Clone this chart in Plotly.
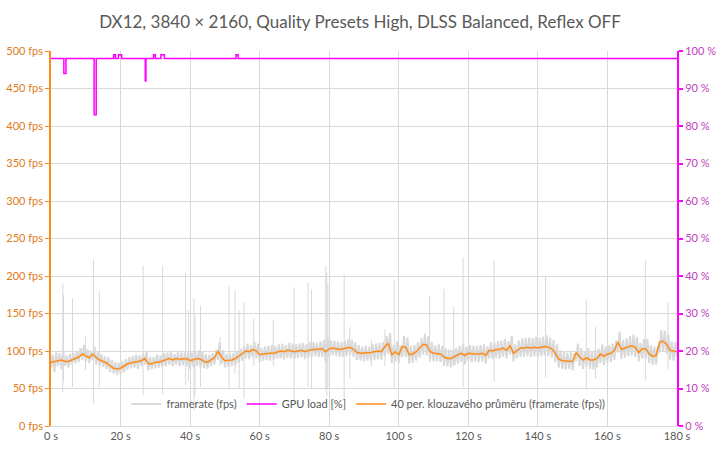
import plotly.graph_objects as go

fps_step = 0.5
framerate = [
    78, 95, 72, 98, 80, 97, 76, 100, 80, 94, 78, 96, 82, 97, 84, 100, 85, 104, 88, 108,
    86, 102, 84, 100, 88, 106, 82, 99, 80, 96, 79, 93, 76, 92, 72, 88, 70, 85, 68, 84,
    70, 86, 72, 89, 75, 92, 77, 93, 78, 95, 76, 94, 80, 97, 82, 99, 74, 92, 76, 92,
    77, 95, 78, 94, 79, 97, 80, 98, 82, 99, 80, 96, 82, 99, 80, 98, 81, 98, 80, 100,
    76, 98, 78, 99, 80, 101, 78, 100, 77, 96, 76, 95, 80, 97, 82, 102, 88, 112, 83, 101,
    78, 96, 79, 96, 80, 97, 81, 100, 84, 103, 87, 106, 90, 110, 89, 108, 92, 112, 90, 110,
    85, 104, 87, 106, 88, 107, 87, 108, 88, 106, 90, 109, 90, 110, 89, 108, 91, 111, 90, 110,
    89, 109, 91, 110, 92, 111, 89, 109, 91, 112, 92, 112, 93, 111, 92, 113, 92, 115, 85, 118,
    92, 114, 94, 114, 93, 113, 92, 112, 92, 114, 93, 116, 95, 115, 92, 112, 88, 108, 87, 106,
    86, 107, 87, 106, 87, 109, 88, 110, 89, 111, 88, 112, 93, 120, 96, 124, 84, 108, 86, 113,
    84, 108, 92, 120, 92, 118, 83, 107, 84, 108, 87, 112, 91, 117, 95, 123, 94, 120, 87, 112,
    86, 108, 86, 109, 85, 107, 80, 104, 79, 102, 78, 102, 81, 104, 83, 107, 85, 110, 82, 106,
    86, 108, 85, 107, 86, 107, 85, 108, 86, 109, 83, 106, 90, 112, 89, 111, 91, 113, 90, 114,
    92, 116, 90, 113, 95, 120, 86, 109, 90, 114, 92, 117, 92, 118, 93, 118, 92, 117, 93, 119,
    92, 118, 93, 119, 94, 121, 93, 118, 91, 115, 85, 109, 78, 101, 76, 99, 75, 98, 76, 99,
    74, 97, 86, 110, 80, 104, 76, 100, 79, 104, 76, 100, 75, 101, 78, 103, 84, 109, 81, 106,
    84, 108, 85, 110, 88, 114, 98, 126, 89, 115, 91, 117, 93, 120, 94, 122, 92, 119, 86, 111,
    90, 116, 90, 116, 84, 108, 81, 106, 82, 107, 98, 128, 99, 127, 96, 122, 88, 113, 87, 112,
    92,
]
fps_time = [i * fps_step for i in range(len(framerate))]

# single-frame spikes: time [s], peak fps, low fps
spike_time = [3.4, 3.6, 6.2, 9.9, 12.2, 13.9, 26.5, 32.1, 38.7, 39.5, 41.1, 41.4, 43.0,
              48.6, 51.2, 52.9, 54.1, 55.5, 58.3, 63.9, 69.9, 73.9, 74.9, 79.0, 79.3,
              79.6, 84.3, 85.9, 92.1, 96.0, 98.7, 108.9, 113.0, 115.8, 118.5, 127.4,
              142.2, 153.9, 156.6, 170.9, 177.4]
spike_high = [190, 175, 170, 119, 222, 180, 214, 214, 204, 154, 170, 150, 161,
              119, 186, 181, 154, 165, 143, 141, 185, 191, 182, 214, 205,
              190, 203, 132, 115, 129, 195, 173, 183, 159, 225, 221,
              199, 168, 132, 221, 165]
spike_low = [45, 60, 52, 75, 30, 52, 41, 43, 54, 60, 21, 40, 52,
             80, 48, 70, 50, 36, 80, 80, 30, 52, 50, 48, 40,
             50, 34, 63, 80, 80, 50, 85, 80, 80, 52, 59,
             65, 48, 63, 61, 76]

# 40-period moving average, read every 1 s
avg_time = list(range(0, 181))
moving_avg = [
    85, 86, 87, 88, 86, 86, 88, 90, 92, 96, 93, 91, 96, 91, 88, 86, 84, 80, 77, 76,
    77, 80, 83, 84, 85, 85, 87, 90, 83, 83, 85, 85, 87, 89, 90, 88, 90, 89, 89, 90,
    87, 88, 90, 89, 86, 85, 88, 91, 100, 92, 87, 87, 88, 90, 93, 96, 100, 99, 102, 100,
    95, 96, 97, 97, 97, 99, 100, 99, 101, 100, 99, 100, 101, 99, 101, 102, 102, 102, 103, 99,
    103, 104, 103, 102, 103, 104, 105, 102, 98, 97, 97, 97, 98, 99, 100, 99, 106, 110, 95, 99,
    95, 106, 105, 95, 96, 99, 104, 109, 108, 99, 97, 97, 96, 92, 90, 90, 93, 95, 97, 94,
    97, 96, 96, 96, 97, 94, 101, 100, 102, 102, 104, 101, 107, 97, 101, 104, 104, 105, 104, 105,
    104, 105, 106, 105, 103, 97, 89, 87, 87, 87, 86, 98, 92, 88, 91, 88, 88, 90, 96, 93,
    96, 97, 101, 112, 102, 104, 106, 107, 105, 98, 103, 103, 96, 93, 94, 112, 113, 109, 101, 100,
    99,
]

# GPU load change points (step line)
gpu_time = [0, 3.7, 4.3, 12.4, 13.0, 18.0, 18.5, 19.4, 20.3, 27.1, 27.3,
            29.5, 30.0, 31.6, 32.6, 53.2, 53.8, 180]
gpu_load = [98, 94, 98, 83, 98, 99, 98, 99, 98, 92, 98,
            99, 98, 99, 98, 99, 98, 98]

GRAY = "#d9d9d9"
ORANGE = "#ff8c1a"
MAGENTA = "#ff00ff"
TEXT = "#595959"

spike_x, spike_y = [], []
for t, hi, lo in zip(spike_time, spike_high, spike_low):
    spike_x += [t, t, None]
    spike_y += [lo, hi, None]

fig = go.Figure()
fig.add_trace(go.Scatter(x=fps_time, y=framerate, mode="lines", name="framerate (fps)",
                         line=dict(color=GRAY, width=2), legendgroup="fps"))
fig.add_trace(go.Scatter(x=spike_x, y=spike_y, mode="lines", showlegend=False,
                         line=dict(color=GRAY, width=1), legendgroup="fps"))
fig.add_trace(go.Scatter(x=gpu_time, y=gpu_load, mode="lines", name="GPU load [%]",
                         line=dict(color=MAGENTA, width=1.5, shape="hv"), yaxis="y2"))
fig.add_trace(go.Scatter(x=avg_time, y=moving_avg, mode="lines",
                         name="40 per. klouzavého průměru (framerate (fps))",
                         line=dict(color=ORANGE, width=1.5)))

fig.update_layout(
    width=720, height=455,
    paper_bgcolor="white", plot_bgcolor="white",
    font=dict(family="Lato", size=11, color=TEXT),
    title=dict(text="DX12, 3840 × 2160, Quality Presets High, DLSS Balanced, Reflex OFF",
               x=0.5, xanchor="center", y=0.952, yanchor="middle",
               font=dict(size=17, color=TEXT)),
    margin=dict(l=51, r=43, t=51, b=29),
    showlegend=True,
    legend=dict(orientation="h", x=0.507, xanchor="center", y=0.02, yanchor="bottom",
                bgcolor="rgba(0,0,0,0)", font=dict(size=11, color=TEXT), itemwidth=30),
    xaxis=dict(range=[0, 180], dtick=20, ticksuffix=" s", showgrid=True, gridcolor=GRAY,
               zeroline=False, showline=True, linecolor=GRAY, ticks="", automargin=False,
               tickfont=dict(size=11, color=TEXT)),
    yaxis=dict(range=[0, 500], dtick=50, ticksuffix=" fps", showgrid=True, gridcolor=GRAY,
               zeroline=False, showline=True, linecolor=ORANGE, linewidth=1.5,
               ticks="outside", ticklen=4, tickcolor=ORANGE, automargin=False,
               tickfont=dict(size=11, color="#e07b20")),
    yaxis2=dict(range=[0, 100], dtick=10, ticksuffix=" %", overlaying="y", side="right",
                showgrid=False, zeroline=False, showline=True, linecolor=MAGENTA, linewidth=2,
                ticks="outside", ticklen=4, tickcolor=MAGENTA, tickwidth=2, automargin=False,
                tickfont=dict(size=11, color="#c03cc0")),
)

# the page body has a default 8px margin; drop it so the figure fills the window
fig.write_html("out.html", config={"displayModeBar": False},
               post_script="document.body.style.margin='0';")
